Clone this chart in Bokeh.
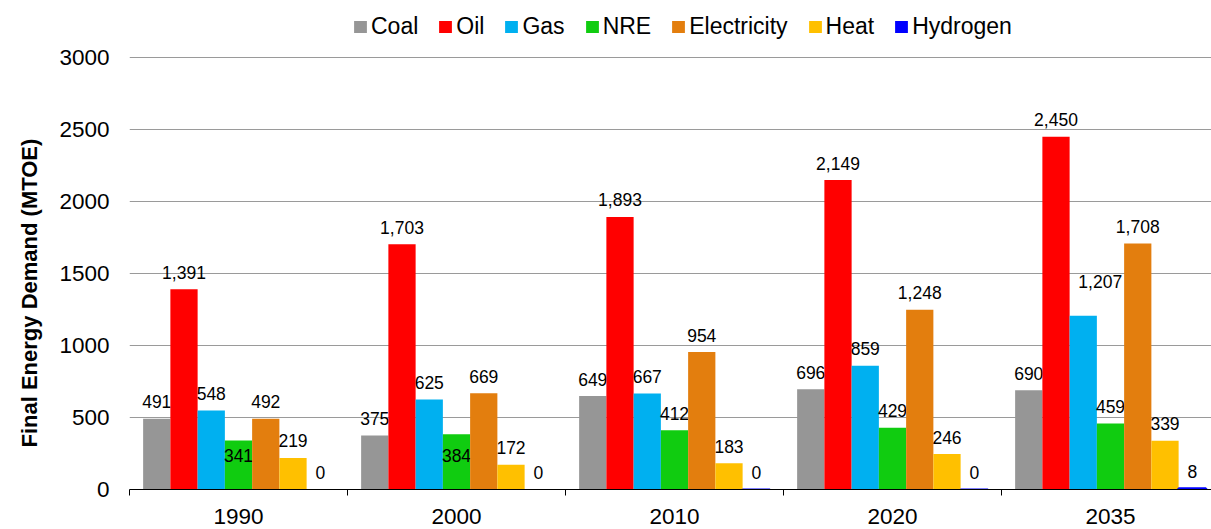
from bokeh.plotting import figure
from bokeh.models import (ColumnDataSource, FixedTicker, Range1d, Legend,
                          LegendItem, Title)
from bokeh.embed import file_html
from bokeh.resources import INLINE
from bokeh.core.properties import value

# ---------------- data ----------------
years = ["1990", "2000", "2010", "2020", "2035"]
series = ["Coal", "Oil", "Gas", "NRE", "Electricity", "Heat", "Hydrogen"]
coal = [491, 375, 649, 696, 690]
oil = [1391, 1703, 1893, 2149, 2450]
gas = [548, 625, 667, 859, 1207]
nre = [341, 384, 412, 429, 459]
electricity = [492, 669, 954, 1248, 1708]
heat = [219, 172, 183, 246, 339]
hydrogen = [0, 0, 0.4, 0.4, 8]
y_ticks = [0, 500, 1000, 1500, 2000, 2500, 3000]

# ---------------- styles ----------------
colors = ["#969696", "#FF0000", "#00B0F0", "#10CC10", "#E37E0E", "#FFC000", "#0000FF"]
FONT = "Liberation Sans"
# label offsets in screen px (x, y); default sits just above bar top
base_dy = -17
label_dx = {s: [0] * 5 for s in series}
label_dy = {s: [base_dy] * 5 for s in series}
label_dy["NRE"][0] = 15
label_dy["NRE"][1] = 21
label_dx["Gas"][4] = 17
label_dy["Gas"][4] = -34

values = [coal, oil, gas, nre, electricity, heat, hydrogen]
n_ser = len(series)
bar_w = 1.0 / (n_ser + 1)

W, H = 1211, 529
LEFT, BOTTOM = 129, 40
frame_w = W - LEFT
frame_h = H - BOTTOM                 # frame reaches the top of the canvas
group_px = 218.0
y_end = 3000 * frame_h / 432.0       # 3000 sits 432 px above the axis

p = figure(width=W, height=H, output_backend="svg", toolbar_location=None,
           x_range=Range1d(0, frame_w / group_px), y_range=Range1d(0, y_end),
           min_border_left=LEFT, min_border_right=0, min_border_top=0,
           min_border_bottom=BOTTOM)
p.outline_line_color = None
p.background_fill_color = "white"
p.border_fill_color = "white"

legend_items = []
for j, (name, vals, col) in enumerate(zip(series, values, colors)):
    xs = [i + 0.5 + (j - (n_ser - 1) / 2) * bar_w for i in range(len(years))]
    is_h = name == "Hydrogen"
    src = ColumnDataSource(dict(
        x=xs, top=vals,
        lbl=[f"{v:,.0f}" for v in vals],
        dx=label_dx[name], dy=label_dy[name],
        la=[(1.0 if (is_h and v > 0) else 0.0) for v in vals],
    ))
    r = p.vbar(x="x", top="top", bottom=0, width=bar_w, source=src,
               fill_color=col, line_color=col, line_width=2 if is_h else 0,
               line_alpha="la")
    legend_items.append(LegendItem(label=name, renderers=[r]))
    p.text(x="x", y="top", text="lbl", source=src, x_offset="dx", y_offset="dy",
           text_align="center", text_baseline="alphabetic",
           text_font=value(FONT), text_font_size="17.5px", text_color="black")

# y axis
p.yaxis.ticker = FixedTicker(ticks=y_ticks)
p.yaxis.axis_line_color = None
p.yaxis.major_tick_line_color = None
p.yaxis.minor_tick_line_color = None
p.yaxis.major_tick_out = 0
p.yaxis.major_tick_in = 0
p.yaxis.major_label_standoff = 20
p.yaxis.major_label_text_font = FONT
p.yaxis.major_label_text_font_size = "22.5px"
p.yaxis.major_label_text_color = "black"

p.add_layout(Title(text="Final Energy Demand (MTOE)", align="left", offset=42,
                   standoff=29, text_font=FONT, text_font_style="bold",
                   text_font_size="22px", text_color="black"), "left")

p.ygrid.ticker = FixedTicker(ticks=y_ticks[1:])
p.ygrid.grid_line_color = "#9A9A9A"
p.ygrid.grid_line_width = 1
p.xgrid.grid_line_color = None

# x axis: category names at group centres, separator ticks at group edges
p.xaxis.ticker = FixedTicker(ticks=[i + 0.5 for i in range(len(years))],
                             minor_ticks=list(range(len(years) + 1)))
p.xaxis.major_label_overrides = {i + 0.5: yr for i, yr in enumerate(years)}
p.xaxis.axis_line_color = "black"
p.xaxis.axis_line_width = 1.2
p.xaxis.major_tick_line_color = None
p.xaxis.major_tick_out = 0
p.xaxis.major_tick_in = 0
p.xaxis.major_label_standoff = 13
p.xaxis.major_label_text_font = FONT
p.xaxis.major_label_text_font_size = "22.5px"
p.xaxis.major_label_text_color = "black"
p.xaxis.minor_tick_line_color = "black"
p.xaxis.minor_tick_out = 6
p.xaxis.minor_tick_in = 0

legend = Legend(items=legend_items, orientation="horizontal",
                location=(223, 449), padding=0, margin=0, spacing=19,
                glyph_width=16, glyph_height=15, label_standoff=3,
                label_text_font=FONT, label_text_font_size="23px",
                label_text_color="black",
                border_line_color=None, background_fill_alpha=0)
p.add_layout(legend, "center")

open("out.html", "w").write(file_html(p, INLINE))
